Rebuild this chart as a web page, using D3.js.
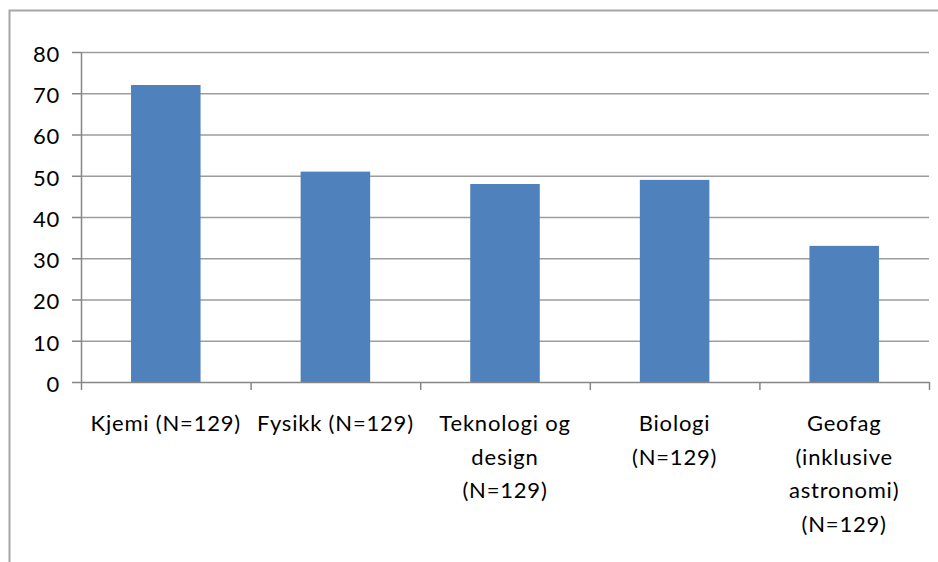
<!DOCTYPE html>
<html>
<head>
<meta charset="utf-8">
<script src="https://cdn.jsdelivr.net/npm/d3@7"></script>
<style>
  body { margin: 0; background: #fff; }
  .axis text { font-family: Lato, "Open Sans", sans-serif; font-size: 22px; fill: #000; letter-spacing: 0.8px; }
  .grid line { stroke: #9d9d9d; stroke-width: 1.5px; }
  .grid path { display: none; }
</style>
</head>
<body>
<div id="chart"></div>
<script>
// data
var categories = ['Kjemi', 'Fysikk', 'Teknologi', 'Biologi', 'Geofag'];
var values = [72, 51, 48, 49, 33];
var tickLabels = [
  ['Kjemi (N=129)'],
  ['Fysikk (N=129)'],
  ['Teknologi og', 'design', '(N=129)'],
  ['Biologi', '(N=129)'],
  ['Geofag', '(inklusive', 'astronomi)', '(N=129)']
];
var yTicks = [0, 10, 20, 30, 40, 50, 60, 70, 80];

var W = 938, H = 562;
var margin = { top: 52, right: 9, bottom: 180, left: 81 };
var width = W - margin.left - margin.right;
var height = H - margin.top - margin.bottom;

var svg = d3.select('#chart')
  .append('svg')
  .attr('width', W)
  .attr('height', H);

// outer frame (left + top border)
svg.append('path')
  .attr('d', 'M9.5,' + H + 'V10.5H' + W)
  .attr('fill', 'none')
  .attr('stroke', '#a6a6a6')
  .attr('stroke-width', 2);

var g = svg.append('g')
  .attr('transform', 'translate(' + margin.left + ',' + margin.top + ')');

var x = d3.scaleBand()
  .domain(categories)
  .range([0, width])
  .paddingInner(0.59)
  .paddingOuter(0.295);

var xEdges = d3.scaleLinear().domain([0, categories.length]).range([0, width]);

var y = d3.scaleLinear().domain([0, 80]).range([height, 0]);

/* gridlines */
g.append('g')
  .attr('class', 'grid')
  .call(d3.axisLeft(y).tickValues(yTicks.slice(1)).tickSize(-width).tickFormat(''));

/* bars */
g.append('g')
  .selectAll('rect')
  .data(values)
  .enter()
  .append('rect')
  .attr('x', (d, i) => x(categories[i]))
  .attr('y', d => y(d))
  .attr('width', x.bandwidth())
  .attr('height', d => height - y(d))
  .attr('fill', '#4f81bd');

/* y axis */
var yAxis = g.append('g')
  .attr('class', 'axis')
  .call(d3.axisLeft(y).tickValues(yTicks).tickSize(9).tickSizeOuter(0).tickPadding(12));
yAxis.select('.domain').attr('stroke', '#868686').attr('stroke-width', 1.5);
yAxis.selectAll('.tick line').attr('stroke', '#868686').attr('stroke-width', 1.5);
yAxis.selectAll('.tick text').attr('dy', '0.42em');

/* x axis: tick marks at category edges */
var xAxis = g.append('g')
  .attr('class', 'axis')
  .attr('transform', 'translate(0,' + height + ')')
  .call(d3.axisBottom(xEdges).ticks(categories.length).tickSize(8).tickSizeOuter(0).tickFormat(''));
xAxis.select('.domain').attr('stroke', '#868686').attr('stroke-width', 1.5);
xAxis.selectAll('.tick line').attr('stroke', '#868686').attr('stroke-width', 1.5);

/* x labels */
var xLabels = g.append('g')
  .attr('class', 'axis')
  .attr('transform', 'translate(0,' + height + ')');

xLabels.selectAll('text')
  .data(tickLabels)
  .enter()
  .append('text')
  .attr('text-anchor', 'middle')
  .attr('x', (d, i) => x(categories[i]) + x.bandwidth() / 2)
  .attr('y', 49)
  .each(function(lines) {
    var t = d3.select(this);
    lines.forEach(function(line, k) {
      t.append('tspan')
        .attr('x', t.attr('x'))
        .attr('y', 49 + k * 33.5)
        .text(line);
    });
  });
</script>
</body>
</html>
